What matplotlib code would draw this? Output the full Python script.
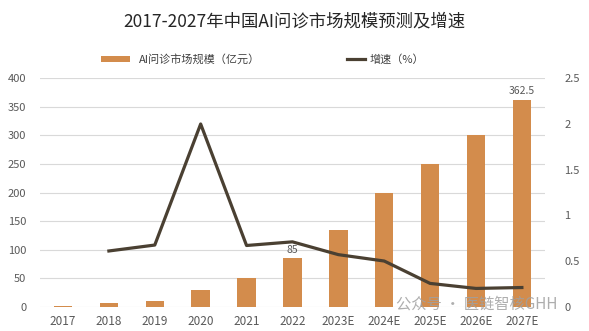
import matplotlib
matplotlib.use('Agg')
import matplotlib.pyplot as plt
import numpy as np

plt.rcParams['font.family'] = ['Noto Sans CJK SC', 'DejaVu Sans']

years = ['2017', '2018', '2019', '2020', '2021', '2022',
         '2023E', '2024E', '2025E', '2026E', '2027E']
market = [2, 7, 10, 29, 50, 85, 134, 200, 250, 300, 362.5]
growth = [None, 0.61, 0.675, 2.0, 0.67, 0.71, 0.57, 0.5, 0.255, 0.2, 0.21]

bar_color = '#d38c4c'
line_color = '#4a4032'
tick_color = '#595959'

fig = plt.figure(figsize=(5.89, 3.31), dpi=100)
ax = fig.add_axes([0.068, 0.0734, 0.857, 0.69])
x = np.arange(len(years))

ax.bar(x, market, width=0.4, color=bar_color, zorder=2,
       label='AI问诊市场规模（亿元）')
ax.set_ylim(0, 400)
ax.set_yticks(np.arange(0, 401, 50))
ax.set_xlim(-0.5, len(years) - 0.5)
ax.set_xticks(x)
ax.set_xticklabels(years)
ax.grid(axis='y', color='#d9d9d9', linewidth=0.8, zorder=0)
for s in ax.spines.values():
    s.set_visible(False)
ax.tick_params(length=0, colors=tick_color, labelsize=8)
ax.tick_params(axis='x', labelsize=8.5, pad=6)
ax.tick_params(axis='y', pad=10)

# data labels on 2022 and 2027E
ax.text(x[5], market[5] + 6, '85', ha='center', va='bottom',
        fontsize=7.5, color=tick_color, zorder=4)
ax.text(x[10], market[10] + 6, '362.5', ha='center', va='bottom',
        fontsize=7.5, color=tick_color, zorder=4)

ax2 = ax.twinx()
gx = [i for i, g in enumerate(growth) if g is not None]
gy = [g for g in growth if g is not None]
ax2.plot(gx, gy, color=line_color, linewidth=2.3, zorder=3, label='增速（%）')
ax2.set_ylim(0, 2.5)
ax2.set_yticks([0, 0.5, 1, 1.5, 2, 2.5])
ax2.set_yticklabels(['0', '0.5', '1', '1.5', '2', '2.5'])
for s in ax2.spines.values():
    s.set_visible(False)
ax2.tick_params(length=0, colors=tick_color, labelsize=8, pad=14)

fig.text(0.5, 0.935, '2017-2027年中国AI问诊市场规模预测及增速', ha='center', va='center',
         fontsize=12.5, color='#262626')

h1, l1 = ax.get_legend_handles_labels()
h2, l2 = ax2.get_legend_handles_labels()
fig.legend([h1[0]], [l1[0]], loc='center left', bbox_to_anchor=(0.155, 0.82),
           frameon=False, fontsize=8, handlelength=2.6, handleheight=0.5,
           labelcolor='#404040')
fig.legend([h2[0]], [l2[0]], loc='center left', bbox_to_anchor=(0.572, 0.82),
           frameon=False, fontsize=8, handlelength=1.6, handletextpad=0.4,
           labelcolor='#404040')

fig.text(0.81, 0.08, '公众号 · 医链智核GHH', ha='center', va='center',
         fontsize=11, color='#a0a0a0', alpha=0.85, zorder=5)

fig.savefig('out.png', dpi=100)
